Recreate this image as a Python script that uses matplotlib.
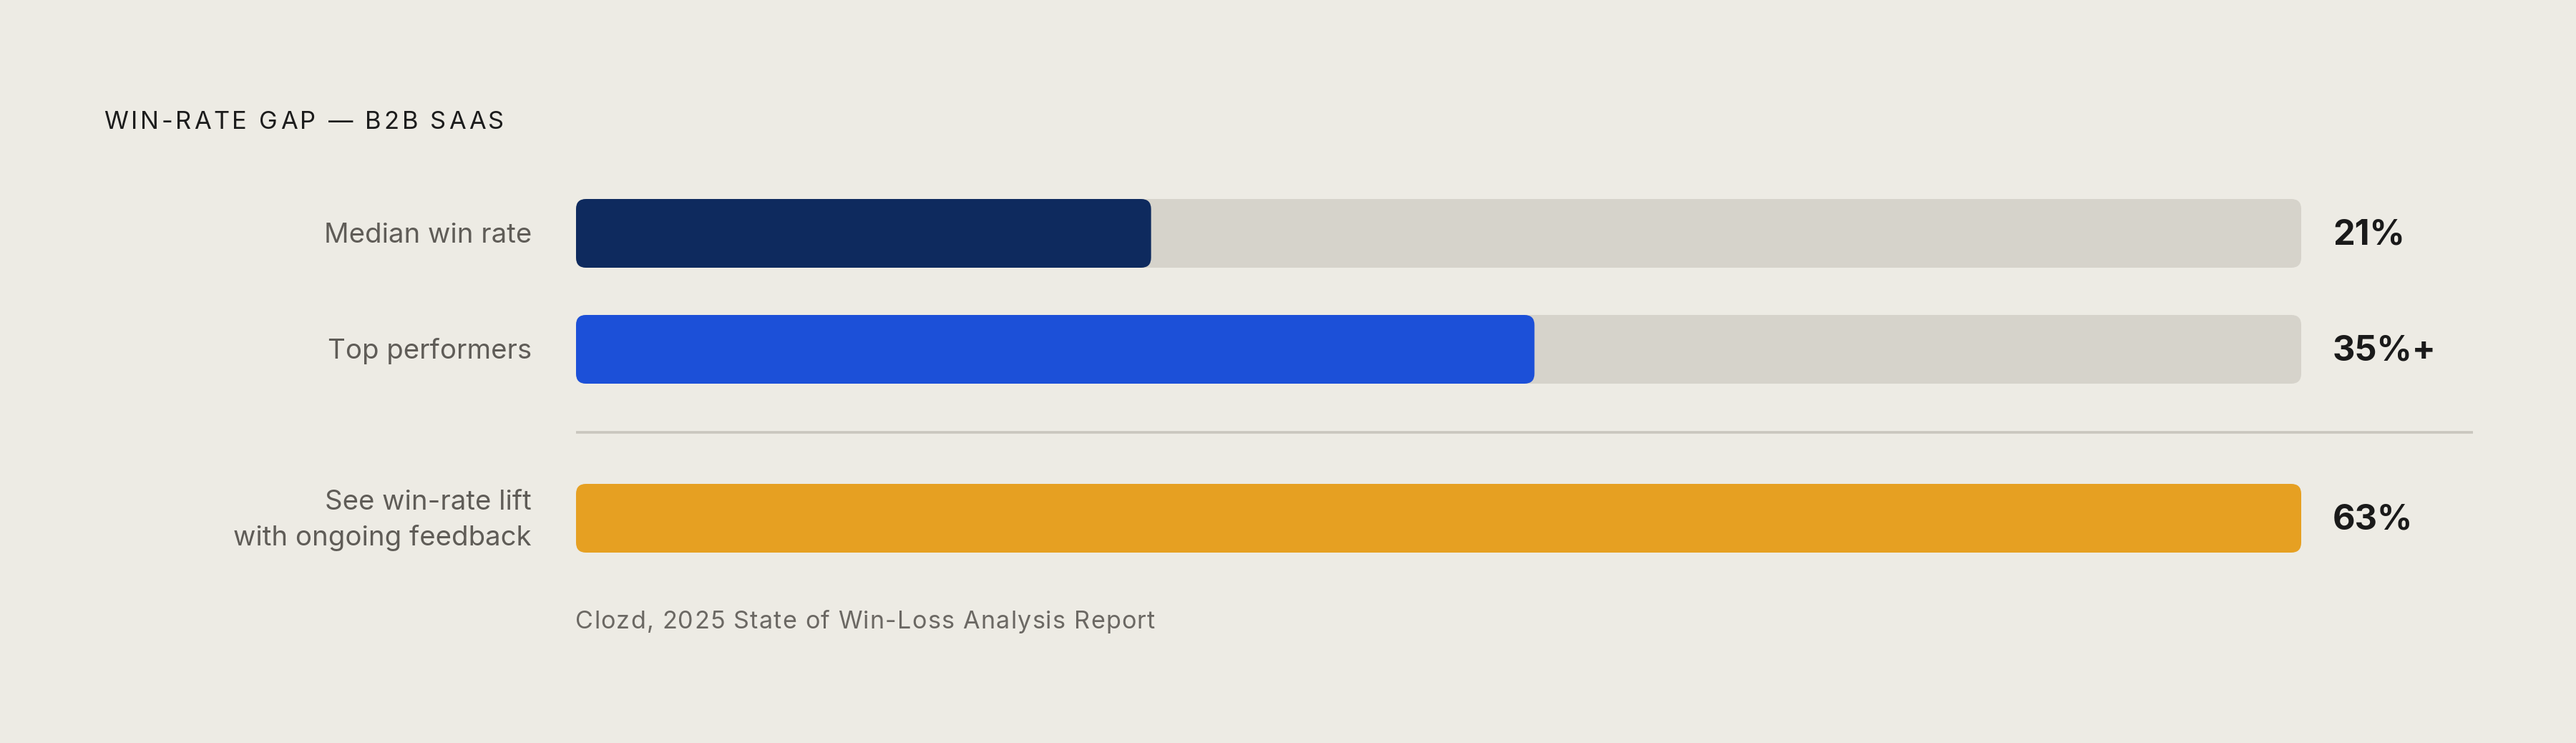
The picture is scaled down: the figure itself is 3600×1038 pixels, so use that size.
import matplotlib
matplotlib.use("Agg")
import matplotlib.pyplot as plt
from matplotlib.patches import FancyBboxPatch

# Data
labels = ["Median win rate", "Top performers", "See win-rate lift\nwith ongoing feedback"]
values = [21, 35, 63]
value_text = ["21%", "35%+", "63%"]
bar_colors = ["#0e2a5e", "#1c50d8", "#e6a022"]
scale_max = 63
title = "WIN-RATE GAP — B2B SAAS"
source = "Clozd, 2025 State of Win-Loss Analysis Report"

W, H = 3600, 1038
DPI = 200
BG = "#edebe4"
TRACK = "#d6d3cb"

plt.rcParams['font.family'] = ['Inter', 'DejaVu Sans']

fig = plt.figure(figsize=(W / DPI, H / DPI), dpi=DPI, facecolor=BG)

# bar area in pixels
x0, x1 = 805, 3216
row_y = [326, 488, 724]
bar_h = 96
radius = 14

ax = fig.add_axes([x0 / W, 0, (x1 - x0) / W, 1])
ax.set_xlim(0, scale_max)
ax.set_ylim(H, 0)
ax.axis("off")
ax.set_facecolor("none")

xu = scale_max / (x1 - x0)  # x units per pixel


def rbar(x, y, w, h, color):
    p = FancyBboxPatch((x, y - h / 2), w, h,
                       boxstyle="round,pad=0,rounding_size=%f" % (radius * xu),
                       mutation_aspect=1 / xu, fc=color, ec="none", clip_on=False)
    ax.add_patch(p)


for i in range(len(values)):
    if values[i] < scale_max:
        rbar(0, row_y[i], scale_max, bar_h, TRACK)
    rbar(0, row_y[i], values[i], bar_h, bar_colors[i])

# divider
ax.plot([0, (3456 - x0) * xu], [604, 604], color="#c9c6be", lw=1.3, clip_on=False,
        solid_capstyle="butt")


def fy(py):
    return 1 - py / H


for i in range(len(labels)):
    fig.text(743 / W, fy(row_y[i] + 3), labels[i], ha="right", va="center",
             fontsize=13.8, color="#5f5c57", linespacing=1.42)
    fig.text(3260 / W, fy(row_y[i] - 2), value_text[i], ha="left", va="center_baseline",
             fontsize=17.5, fontweight="bold", color="#1a1a1a")


# tracked text helper
def tracked(x, y, s, spacing, **kw):
    fig.canvas.draw()
    r = fig.canvas.get_renderer()
    px = x
    for ch in s:
        t = fig.text(px / W, fy(y), ch, **kw)
        if ch == " ":
            w = t.get_fontsize() * DPI / 72 * 0.28
        else:
            w = t.get_window_extent(r).width
        px += w + spacing


tracked(145, 180, title, 3.8, fontsize=12.4, color="#1c1c1c", va="baseline")
tracked(804, 878, source, 1.2, fontsize=12.3, color="#6b6863", va="baseline")

fig.savefig("out.png", dpi=DPI, facecolor=BG)
